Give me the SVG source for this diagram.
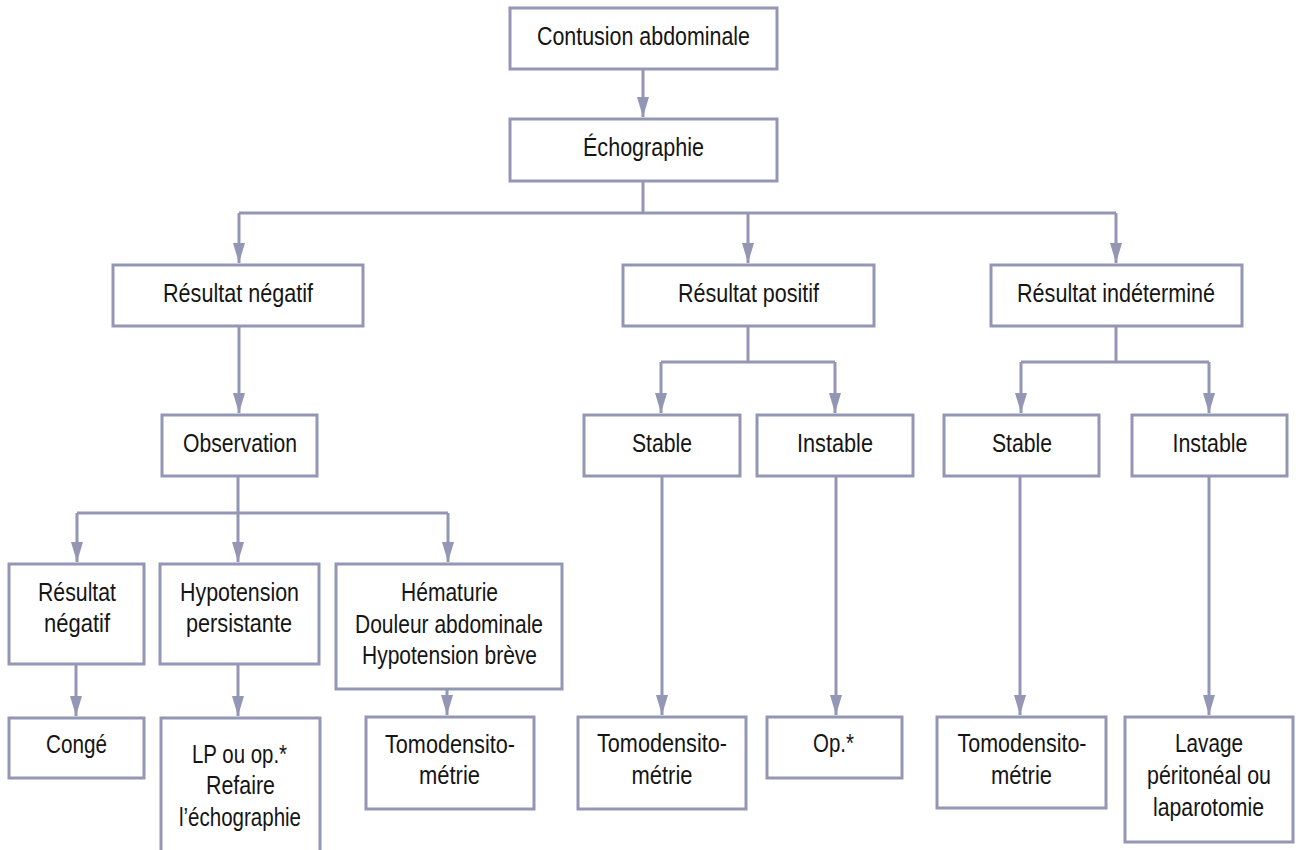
<svg xmlns="http://www.w3.org/2000/svg" width="1296" height="850" viewBox="0 0 1296 850">
<defs>
<marker id="ah" markerUnits="userSpaceOnUse" markerWidth="20" markerHeight="12" refX="20" refY="6" orient="auto">
<path d="M0,0 L20,6 L0,12 z" fill="#9397B5"/>
</marker>
<style>
.box{fill:#fff;stroke:#9397B5;stroke-width:3}
.t{font-family:"Liberation Sans",Arial,sans-serif;font-size:25px;fill:#151515;text-anchor:middle}
.c{fill:none;stroke:#9397B5;stroke-width:3}
.a{marker-end:url(#ah)}
</style>
</defs>
<rect width="1296" height="850" fill="#fff"/>
<g id="connectors">
<path class="c a" d="M643,69 V117"/>
<path class="c" d="M643,181 V213 M239,213 H1116"/>
<path class="c a" d="M239,213 V263"/>
<path class="c a" d="M748,213 V263"/>
<path class="c a" d="M1116,213 V263"/>
<path class="c a" d="M239,326 V413"/>
<path class="c" d="M238,476 V513 M77,513 H448"/>
<path class="c a" d="M77,513 V562"/>
<path class="c a" d="M238,513 V562"/>
<path class="c a" d="M448,513 V562"/>
<path class="c a" d="M76,664 V716"/>
<path class="c a" d="M238,664 V716"/>
<path class="c a" d="M447,689 V715"/>
<path class="c" d="M748,326 V362 M661,362 H835"/>
<path class="c a" d="M661,362 V413"/>
<path class="c a" d="M835,362 V413"/>
<path class="c a" d="M662,476 V715"/>
<path class="c a" d="M836,476 V715"/>
<path class="c" d="M1116,326 V362 M1021,362 H1209"/>
<path class="c a" d="M1021,362 V413"/>
<path class="c a" d="M1209,362 V413"/>
<path class="c a" d="M1020,476 V715"/>
<path class="c a" d="M1209,476 V715"/>
</g>
<g id="n-contusion"><rect class="box" x="510" y="8" width="267" height="61"/><text class="t" x="643.5" y="45" textLength="213" lengthAdjust="spacingAndGlyphs">Contusion abdominale</text></g>
<g id="n-echo"><rect class="box" x="510" y="119" width="267" height="62"/><text class="t" x="643.5" y="156" textLength="121" lengthAdjust="spacingAndGlyphs">Échographie</text></g>
<g id="n-neg"><rect class="box" x="113" y="265" width="250" height="61"/><text class="t" x="238" y="302" textLength="150" lengthAdjust="spacingAndGlyphs">Résultat négatif</text></g>
<g id="n-pos"><rect class="box" x="623" y="265" width="251" height="61"/><text class="t" x="748.5" y="302" textLength="141" lengthAdjust="spacingAndGlyphs">Résultat positif</text></g>
<g id="n-ind"><rect class="box" x="991" y="265" width="251" height="61"/><text class="t" x="1116" y="302" textLength="198" lengthAdjust="spacingAndGlyphs">Résultat indéterminé</text></g>
<g id="n-obs"><rect class="box" x="162" y="415" width="155" height="61"/><text class="t" x="240" y="452" textLength="114" lengthAdjust="spacingAndGlyphs">Observation</text></g>
<g id="n-pos-stable"><rect class="box" x="584" y="415" width="156" height="61"/><text class="t" x="662" y="452" textLength="60" lengthAdjust="spacingAndGlyphs">Stable</text></g>
<g id="n-pos-instable"><rect class="box" x="757" y="415" width="156" height="61"/><text class="t" x="835" y="452" textLength="76" lengthAdjust="spacingAndGlyphs">Instable</text></g>
<g id="n-ind-stable"><rect class="box" x="944" y="415" width="155" height="61"/><text class="t" x="1022" y="452" textLength="60" lengthAdjust="spacingAndGlyphs">Stable</text></g>
<g id="n-ind-instable"><rect class="box" x="1132" y="415" width="155" height="61"/><text class="t" x="1210" y="452" textLength="75" lengthAdjust="spacingAndGlyphs">Instable</text></g>
<g id="n-obs-neg"><rect class="box" x="9" y="564" width="135" height="100"/><text class="t" x="77" y="601" textLength="78" lengthAdjust="spacingAndGlyphs">Résultat</text><text class="t" x="77" y="632" textLength="66" lengthAdjust="spacingAndGlyphs">négatif</text></g>
<g id="n-hypo"><rect class="box" x="160" y="564" width="159" height="100"/><text class="t" x="239.5" y="601" textLength="119" lengthAdjust="spacingAndGlyphs">Hypotension</text><text class="t" x="239" y="632" textLength="106" lengthAdjust="spacingAndGlyphs">persistante</text></g>
<g id="n-hema"><rect class="box" x="336" y="564" width="226" height="125"/><text class="t" x="449.5" y="601" textLength="97" lengthAdjust="spacingAndGlyphs">Hématurie</text><text class="t" x="449" y="633" textLength="188" lengthAdjust="spacingAndGlyphs">Douleur abdominale</text><text class="t" x="449.5" y="664" textLength="175" lengthAdjust="spacingAndGlyphs">Hypotension brève</text></g>
<g id="n-conge"><rect class="box" x="9" y="718" width="135" height="60"/><text class="t" x="76.5" y="753" textLength="61" lengthAdjust="spacingAndGlyphs">Congé</text></g>
<g id="n-lp"><rect class="box" x="161" y="718" width="159" height="145"/><text class="t" x="239.5" y="763" textLength="95" lengthAdjust="spacingAndGlyphs">LP ou op.*</text><text class="t" x="240.5" y="794" textLength="69" lengthAdjust="spacingAndGlyphs">Refaire</text><text class="t" x="240" y="826" textLength="122" lengthAdjust="spacingAndGlyphs">l’échographie</text></g>
<g id="n-tomo1"><rect class="box" x="366" y="717" width="168" height="92"/><text class="t" x="450" y="753" textLength="130" lengthAdjust="spacingAndGlyphs">Tomodensito-</text><text class="t" x="449.5" y="784" textLength="61" lengthAdjust="spacingAndGlyphs">métrie</text></g>
<g id="n-tomo2"><rect class="box" x="578" y="717" width="168" height="92"/><text class="t" x="662" y="752" textLength="130" lengthAdjust="spacingAndGlyphs">Tomodensito-</text><text class="t" x="662" y="784" textLength="61" lengthAdjust="spacingAndGlyphs">métrie</text></g>
<g id="n-op"><rect class="box" x="767" y="717" width="135" height="61"/><text class="t" x="833.5" y="752" textLength="41" lengthAdjust="spacingAndGlyphs">Op.*</text></g>
<g id="n-tomo3"><rect class="box" x="937" y="717" width="169" height="91"/><text class="t" x="1022" y="752" textLength="129" lengthAdjust="spacingAndGlyphs">Tomodensito-</text><text class="t" x="1021.5" y="784" textLength="61" lengthAdjust="spacingAndGlyphs">métrie</text></g>
<g id="n-lavage"><rect class="box" x="1125" y="717" width="168" height="125"/><text class="t" x="1209" y="752" textLength="68" lengthAdjust="spacingAndGlyphs">Lavage</text><text class="t" x="1209" y="784" textLength="124" lengthAdjust="spacingAndGlyphs">péritonéal ou</text><text class="t" x="1208.5" y="816" textLength="111" lengthAdjust="spacingAndGlyphs">laparotomie</text></g>
</svg>
